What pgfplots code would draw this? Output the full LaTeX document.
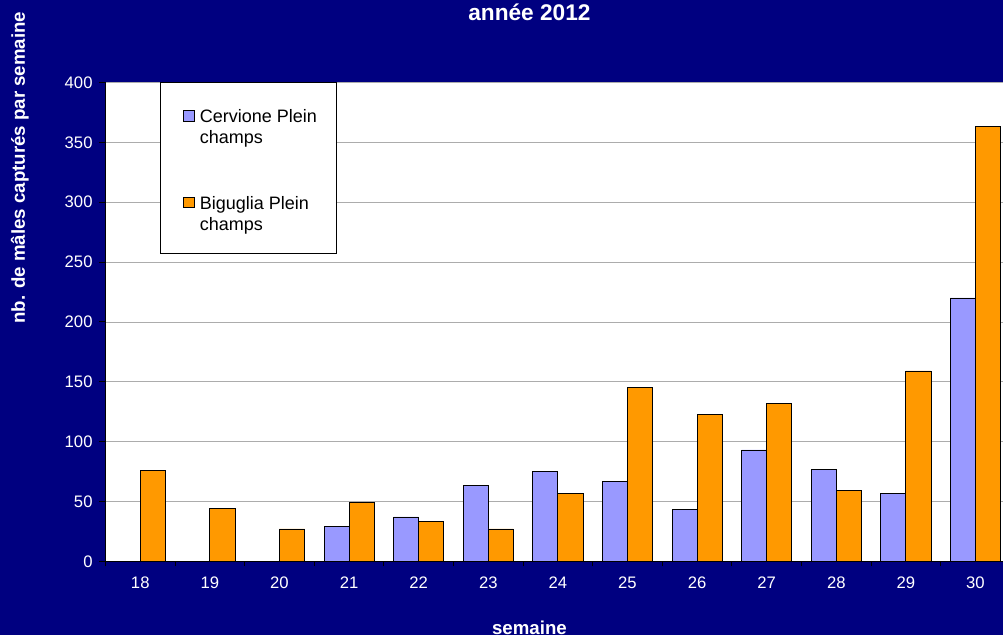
\documentclass[border=0pt]{standalone}
\usepackage{fontspec}
\setmainfont{Liberation Sans}
\usepackage{pgfplots}
\pgfplotsset{compat=1.18}

\definecolor{fond}{HTML}{000080}
\definecolor{lavande}{HTML}{9999FF}
\definecolor{orange}{HTML}{FF9900}

% 1 px of the reference = 0.75pt
\begin{document}
\begin{tikzpicture}
\useasboundingbox (0,0) rectangle (752.25pt,476.25pt);
\fill[fond] (0,0) rectangle (752.25pt,476.25pt);
\begin{axis}[
  at={(79.1pt,55.3pt)}, anchor=south west,
  scale only axis,
  width=678.6pt, height=359.1pt,
  axis background/.style={fill=white},
  axis x line*=bottom, axis y line*=left,
  axis line style={black, line width=0.6pt},
  xmin=-0.5, xmax=12.5,
  ymin=0, ymax=400,
  ytick={0,50,...,400},
  xtick={0,...,12},
  xticklabels={18,19,20,21,22,23,24,25,26,27,28,29,30},
  minor xtick={-0.5,0.5,...,12.5},
  major x tick style={draw=none},
  tick align=outside,
  major tick length=4.5pt,
  minor tick length=3.75pt,
  tick style={black, line width=0.6pt},
  ymajorgrids,
  major grid style={gray!65, line width=0.5pt},
  /pgf/number format/assume math mode=true,
  tick label style={white, font=\fontsize{12.5}{15}\selectfont},
  yticklabel style={inner sep=0pt, xshift=-5pt},
  xticklabel style={inner sep=0pt, yshift=-7pt},
  title={année 2012},
  title style={at={(0.4686,1.1305)}, anchor=center, white,
    font=\bfseries\fontsize{17}{20}\selectfont},
  xlabel={semaine},
  xlabel style={at={(0.4686,-0.1393)}, anchor=center, white,
    font=\bfseries\fontsize{14}{17}\selectfont},
  ylabel={nb. de mâles capturés par semaine},
  ylabel style={at={(-0.0945,0.822)}, anchor=center, rotate=0, white,
    font=\bfseries\fontsize{14}{17}\selectfont},
  legend style={at={(0.0602,1)}, anchor=north west, draw=black, fill=white,
    line width=0.6pt, inner xsep=13pt, inner ysep=14pt, row sep=29.5pt,
    column sep=2pt,
    font=\fontsize{13.5}{15.75}\selectfont},
  legend cell align=left,
  legend image code/.code={\path (0pt,18.75pt);
    \draw[#1, line width=0.6pt] (4pt,4.2pt) rectangle (12pt,12.2pt);},
]
% Cervione Plein champs
\addplot[ybar, bar width=0.36, bar shift=-0.18, fill=lavande, draw=black, line width=0.6pt]
  coordinates {(3,29) (4,37) (5,63) (6,75) (7,67) (8,43) (9,93) (10,77) (11,57) (12,220)};
\addlegendentry{\begin{tabular}[b]{@{}l@{}}Cervione Plein\\champs\end{tabular}}
% Biguglia Plein champs
\addplot[ybar, bar width=0.36, bar shift=0.18, fill=orange, draw=black, line width=0.6pt]
  coordinates {(0,76) (1,44) (2,27) (3,49) (4,33) (5,27) (6,57) (7,145) (8,123) (9,132) (10,59) (11,159) (12,363)};
\addlegendentry{\begin{tabular}[b]{@{}l@{}}Biguglia Plein\\champs\end{tabular}}
\end{axis}
\end{tikzpicture}
\end{document}
